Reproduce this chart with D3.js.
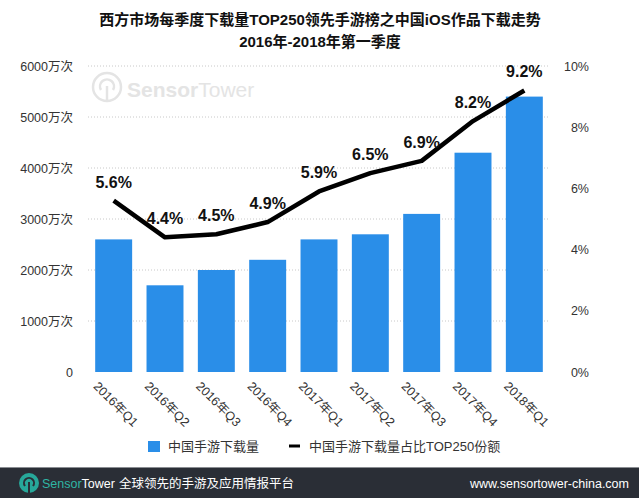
<!DOCTYPE html>
<html><head><meta charset="utf-8">
<script src="https://cdn.jsdelivr.net/npm/d3@7"></script>
<style>
body{margin:0;background:#fff;}
svg{display:block;font-family:"Liberation Sans","Noto Sans CJK SC",sans-serif;}
</style></head><body>
<svg id="c" width="639" height="498"></svg>
<script>
const categories = ["2016年Q1","2016年Q2","2016年Q3","2016年Q4","2017年Q1","2017年Q2","2017年Q3","2017年Q4","2018年Q1"];
const downloads = [2600,1700,2000,2200,2600,2700,3100,4300,5400]; // 万次
const shares = [5.6,4.4,4.5,4.9,5.9,6.5,6.9,8.2,9.2]; // %
const leftTicks = [0,1000,2000,3000,4000,5000,6000];
const rightTicks = [0,2,4,6,8,10];
const titleLines = ["西方市场每季度下载量TOP250领先手游榜之中国iOS作品下载走势","2016年-2018年第一季度"];
const legendLabels = ["中国手游下载量","中国手游下载量占比TOP250份额"];

(function(){
const svg = d3.select("#c");
const barColor = "#2a8ee8";
const plotTop = 66, plotBottom = 372;
const x = d3.scaleBand().domain(categories).range([88, 550]).paddingInner(0.28).paddingOuter(0.14);
const yL = d3.scaleLinear().domain([0,6000]).range([plotBottom, plotTop]);
const yR = d3.scaleLinear().domain([0,10]).range([plotBottom, plotTop]);

// title
svg.selectAll("text.title").data(titleLines).join("text")
  .attr("x", 320).attr("y", (d,i)=>25+i*22).attr("text-anchor","middle")
  .attr("font-size",15).attr("font-weight","bold").attr("fill","#111").text(d=>d);

// gridlines
svg.append("g").selectAll("line").data(leftTicks.filter(d=>d>0)).join("line")
  .attr("x1",88).attr("x2",550).attr("y1",d=>yL(d)).attr("y2",d=>yL(d))
  .attr("stroke","#c8c8c8").attr("stroke-width",1).attr("stroke-dasharray","1,2");

// watermark
const wm = svg.append("g");
const wc = "#e4e4e4";
wm.append("circle").attr("cx",107).attr("cy",87).attr("r",14).attr("fill","none").attr("stroke",wc).attr("stroke-width",2.5);
wm.append("path").attr("d","M101,90 A7,7 0 1,1 113,90").attr("fill","none").attr("stroke",wc).attr("stroke-width",2.5);
wm.append("line").attr("x1",107).attr("x2",107).attr("y1",86).attr("y2",101).attr("stroke",wc).attr("stroke-width",2.5);
const wt = wm.append("text").attr("x",127).attr("y",97).attr("font-size",21).attr("fill",wc);
wt.append("tspan").attr("font-weight","bold").text("Sensor");
wt.append("tspan").text("Tower");

// left axis labels
const axL = d3.axisLeft(yL).tickValues(leftTicks).tickSize(0).tickPadding(0)
  .tickFormat(d=> d===0 ? "0" : d+"万次");
const gL = svg.append("g").attr("transform","translate(73,0)").call(axL);
gL.select(".domain").remove();
gL.selectAll("text").attr("font-size",12.5).attr("fill","#333").attr("font-family","Liberation Sans, Noto Sans CJK SC");

// right axis labels
const axR = d3.axisRight(yR).tickValues(rightTicks).tickSize(0).tickPadding(0).tickFormat(d=>d+"%");
const gR = svg.append("g").attr("transform","translate(589,0)").call(axR);
gR.select(".domain").remove();
gR.selectAll("text").attr("text-anchor","end").attr("font-size",12.5).attr("fill","#333").attr("font-family","Liberation Sans, Noto Sans CJK SC");

// bars
svg.append("g").selectAll("rect").data(downloads).join("rect")
  .attr("x",(d,i)=>x(categories[i])).attr("width",x.bandwidth())
  .attr("y",d=>yL(d)).attr("height",d=>plotBottom-yL(d)).attr("fill",barColor);

// x labels
svg.append("g").selectAll("text").data(categories).join("text")
  .attr("transform",d=>`translate(${x(d)+x.bandwidth()/2-21},387) rotate(45)`)
  .attr("font-size",12.5).attr("fill","#333").text(d=>d);

// line
const line = d3.line().x((d,i)=>x(categories[i])+x.bandwidth()/2).y(d=>yR(d));
svg.append("path").datum(shares).attr("d",line).attr("fill","none")
  .attr("stroke","#000").attr("stroke-width",4.5).attr("stroke-linejoin","round");

// line labels
svg.append("g").selectAll("text").data(shares).join("text")
  .attr("x",(d,i)=>x(categories[i])+x.bandwidth()/2).attr("y",d=>yR(d)-13)
  .attr("text-anchor","middle").attr("font-size",16).attr("font-weight","bold").attr("fill","#111")
  .text(d=>d.toFixed(1)+"%");

// legend
svg.append("rect").attr("x",148).attr("y",441).attr("width",12).attr("height",11).attr("fill",barColor);
svg.append("text").attr("x",168).attr("y",451).attr("font-size",13).attr("fill","#333").text(legendLabels[0]);
svg.append("line").attr("x1",289).attr("x2",300).attr("y1",446).attr("y2",446).attr("stroke","#000").attr("stroke-width",3);
svg.append("text").attr("x",309).attr("y",451).attr("font-size",13).attr("fill","#333").text(legendLabels[1]);

// footer
svg.append("rect").attr("x",0).attr("y",467).attr("width",639).attr("height",31).attr("fill","#2a2e36");
svg.append("line").attr("x1",0).attr("x2",639).attr("y1",467.5).attr("y2",467.5).attr("stroke","#8a8d92").attr("stroke-width",1);
svg.append("circle").attr("cx",29).attr("cy",483).attr("r",10).attr("fill","#27a89a");
svg.append("path").attr("d","M25,486 A5,5 0 1,1 33,486").attr("fill","none").attr("stroke","#2a2e36").attr("stroke-width",2);
svg.append("line").attr("x1",29).attr("x2",29).attr("y1",482).attr("y2",493).attr("stroke","#2a2e36").attr("stroke-width",2);
const ft = svg.append("text").attr("x",42).attr("y",488).attr("font-size",12.5);
ft.append("tspan").attr("fill","#2fb5a4").text("Sensor");
ft.append("tspan").attr("fill","#ffffff").text("Tower");
svg.append("text").attr("x",119).attr("y",488).attr("font-size",12.5).attr("fill","#fff").text("全球领先的手游及应用情报平台");
svg.append("text").attr("x",629).attr("y",488).attr("text-anchor","end").attr("font-size",12.5).attr("fill","#fff").text("www.sensortower-china.com");
})();
</script></body></html>
